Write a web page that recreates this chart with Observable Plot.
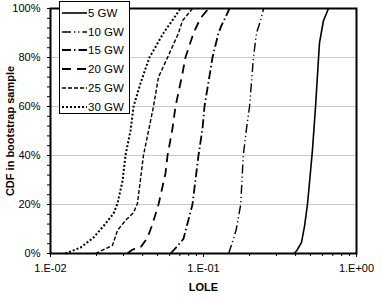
<!DOCTYPE html>
<html><head><meta charset="utf-8">
<script src="https://cdn.jsdelivr.net/npm/d3@7"></script>
<script src="https://cdn.jsdelivr.net/npm/@observablehq/plot@0.6"></script>
<style>
body{margin:0;background:#fff;}
#wrap{position:relative;width:382px;height:298px;font-family:"Liberation Sans",Arial,sans-serif;}
#legend{position:absolute;left:59px;top:1px;width:69px;height:111px;border:1px solid #000;background:#fff;font-size:11.5px;color:#000;}
.row{position:absolute;left:2px;height:12px;display:flex;align-items:center;white-space:nowrap;}
.row svg{display:block;margin-right:1px;}
</style></head><body><div id="wrap"></div>
<script>
// ---- data ----
const series = ["5 GW","10 GW","15 GW","20 GW","25 GW","30 GW"];

const lole5  = [0.39,0.405,0.437,0.457,0.478,0.493,0.515,0.540,0.565,0.573,0.608,0.656];
const cdf5   = [0,1,4.5,11,20,29,42,60,80,86,95,100];

const lole10 = [0.146,0.157,0.164,0.175,0.182,0.191,0.200,0.212,0.222,0.236,0.247];
const cdf10  = [0,6,10,20,40,51,60,80,90,95,100];

const lole15 = [0.0609,0.0676,0.074,0.0847,0.0927,0.0985,0.1015,0.1145,0.1253,0.131,0.148];
const cdf15  = [0,3,6,20,40,51,60,80,90,93,100];

const lole20 = [0.0318,0.0344,0.0387,0.0431,0.0464,0.0508,0.0564,0.0582,0.0627,0.0656,0.0729,0.0762,0.0861,0.0955,0.108];
const cdf20  = [0,1.6,2.4,6.5,12,20,32.6,40,51,60,73.5,80,90,96,100];

const lole25 = [0.0197,0.0254,0.0274,0.0309,0.0349,0.0370,0.0387,0.0405,0.0437,0.0471,0.0508,0.0582,0.0687,0.0729,0.0847];
const cdf25  = [0,3.3,9.4,13.5,16.7,20.4,30,40,50,60,72,80,90,95,100];

const lole30 = [0.0125,0.0157,0.0191,0.0229,0.0258,0.0274,0.0296,0.0309,0.0333,0.0349,0.0387,0.0443,0.0548,0.0608,0.0707];
const cdf30  = [0,2.4,6.5,12.2,16.3,20.4,29.8,40,50,60,69.4,80,90,94,100];

const yTicks = [0,20,40,60,80,100];
const yGrid = [20,40,60,80];
const yMinor = [4,8,12,16,24,28,32,36,44,48,52,56,64,68,72,76,84,88,92,96];
const xTicks = [0.01,0.1,1];
const xTickLabels = ["1.E-02","1.E-01","1.E+00"];
const xMinor = [0.02,0.03,0.04,0.05,0.06,0.07,0.08,0.09,0.2,0.3,0.4,0.5,0.6,0.7,0.8,0.9];
const xTitle = "LOLE";
const yTitle = "CDF in bootstrap sample";

// ---- build table ----
const loles = [lole5,lole10,lole15,lole20,lole25,lole30];
const cdfs = [cdf5,cdf10,cdf15,cdf20,cdf25,cdf30];
const rows = [];
series.forEach((s,i)=>loles[i].forEach((v,j)=>rows.push({series:s, lole:v, cdf:cdfs[i][j]})));

// line styles per series
const styles = {
  "5 GW":  {w:1.6, dash:null},
  "10 GW": {w:1.4, dash:"9,3,1.2,3,1.2,3"},
  "15 GW": {w:1.8, dash:"9,3,1.5,3"},
  "20 GW": {w:1.8, dash:"9,6"},
  "25 GW": {w:1.4, dash:"4,2"},
  "30 GW": {w:2, dash:"2,2"}
};

const chart = Plot.plot({
  width:382, height:298,
  marginLeft:50, marginRight:26, marginTop:8, marginBottom:45,
  style:{fontFamily:"'Liberation Sans',Arial,sans-serif", fontSize:"11px", color:"#000", background:"#fff"},
  x:{type:"log", domain:[0.01,1]},
  y:{domain:[0,100]},
  marks:[
    Plot.gridY(yGrid, {stroke:"#c8c8c8", strokeOpacity:1, strokeWidth:1}),
    ...series.map(s => Plot.line(rows.filter(r=>r.series===s), {
      x:"lole", y:"cdf", stroke:"#000", strokeWidth:styles[s].w,
      strokeDasharray:styles[s].dash, strokeLinecap:"butt", strokeLinejoin:"round"
    })),
    Plot.frame({stroke:"#000", strokeWidth:2}),
    Plot.axisY(yTicks, {tickSize:3, tickPadding:7, tickFormat:d=>d+"%", label:null}),
    Plot.axisY(yMinor, {tickSize:3, tickFormat:()=>"", label:null}),
    Plot.axisX(xTicks, {tickSize:4, tickPadding:7, tickFormat:d=>xTickLabels[xTicks.indexOf(d)], label:null}),
    Plot.axisX(xMinor, {tickSize:3, tickFormat:()=>"", label:null}),
    Plot.text([xTitle], {frameAnchor:"bottom", dy:37, fontWeight:"bold", fontSize:11, textAnchor:"middle"}),
    Plot.text([yTitle], {frameAnchor:"left", dx:-40, rotate:-90, fontWeight:"bold", fontSize:11, textAnchor:"middle"})
  ]
});

const wrap = document.getElementById("wrap");
wrap.appendChild(chart);

// legend
const legend = document.createElement("div");
legend.id = "legend";
series.forEach((s,i)=>{
  const row = document.createElement("div");
  row.className = "row";
  row.style.top = (5 + i*18.7) + "px";
  const st = styles[s];
  const svg = `<svg width="25" height="6"><line x1="0" y1="3" x2="25" y2="3" stroke="#000" stroke-width="${st.w}" ${st.dash?`stroke-dasharray="${st.dash}"`:""}/></svg>`;
  row.innerHTML = svg + `<span>${s}</span>`;
  legend.appendChild(row);
});
wrap.appendChild(legend);
</script>
</body></html>
